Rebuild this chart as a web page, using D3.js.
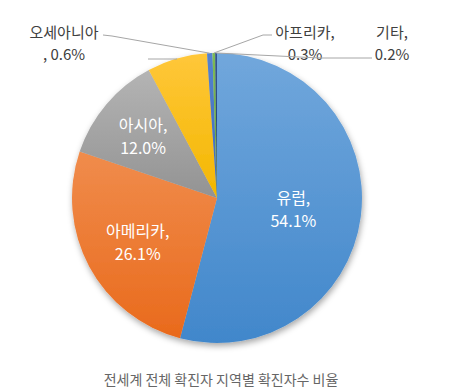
<!DOCTYPE html>
<html>
<head>
<meta charset="utf-8">
<script src="https://cdn.jsdelivr.net/npm/d3@7"></script>
<style>
  body { margin: 0; background: #fff; }
  text { font-family: "Noto Sans CJK KR", "Noto Sans", sans-serif; }
</style>
</head>
<body>
<div id="chart"></div>
<script>
var svgWidth = 452;
var svgHeight = 391;

// data (clockwise from 12 o'clock)
var regions = ["유럽", "아메리카", "아시아", "중동", "오세아니아", "아프리카", "기타"];
var shares = [54.1, 26.1, 12.0, 6.7, 0.6, 0.3, 0.2];
var shownLabels = ["유럽,", "아메리카,", "아시아,", "", "오세아니아", "아프리카,", "기타,"];
var shownValues = ["54.1%", "26.1%", "12.0%", "", ", 0.6%", "0.3%", "0.2%"];
var title = "전세계 전체 확진자 지역별 확진자수 비율";

// top / bottom colour of each slice gradient
var topColors = ["#71a7dc", "#f08c4c", "#b4b4b4", "#ffc73a", "#5583d0", "#7dbb55", "#33558f"];
var bottomColors = ["#4187cb", "#e96a1c", "#939393", "#f3b700", "#3d68b8", "#63a03c", "#213c6c"];

var cx = 217, cy = 198, radius = 145;

var svg = d3.select("#chart")
  .append("svg")
  .attr("width", svgWidth)
  .attr("height", svgHeight);

var defs = svg.append("defs");

var shadow = defs.append("filter")
  .attr("id", "shadow")
  .attr("x", "-20%").attr("y", "-20%")
  .attr("width", "140%").attr("height", "140%");
shadow.append("feDropShadow")
  .attr("dx", 1).attr("dy", 3)
  .attr("stdDeviation", 3)
  .attr("flood-color", "#000")
  .attr("flood-opacity", 0.35);

regions.forEach(function(r, i) {
  var g = defs.append("linearGradient")
    .attr("id", "grad" + i)
    .attr("x1", 0).attr("y1", 0)
    .attr("x2", 0).attr("y2", 1);
  g.append("stop").attr("offset", "0%").attr("stop-color", topColors[i]);
  g.append("stop").attr("offset", "100%").attr("stop-color", bottomColors[i]);
});

var pieData = regions.map(function(r, i) {
  return { region: r, share: shares[i], label: shownLabels[i], value: shownValues[i], idx: i };
});

var pie = d3.pie()
  .sort(null)
  .value(d => d.share);

var arcs = pie(pieData);

var arc = d3.arc()
  .innerRadius(0)
  .outerRadius(radius);

var chartGroup = svg.append("g")
  .attr("transform", `translate(${cx}, ${cy})`);

// slices
var sliceGroup = chartGroup.append("g")
  .attr("filter", "url(#shadow)");

sliceGroup.selectAll("path")
  .data(arcs)
  .enter()
  .append("path")
  .attr("d", arc)
  .attr("fill", d => `url(#grad${d.data.idx})`);

// labels inside the three big slices
var innerRadii = { "유럽": 77, "아메리카": 90, "아시아": 97 };

var inner = arcs.filter(d => innerRadii[d.data.region]);

var innerLabels = chartGroup.selectAll(".inner-label")
  .data(inner)
  .enter()
  .append("text")
  .classed("inner-label", true)
  .attr("transform", function(d) {
    var r = innerRadii[d.data.region];
    var a = (d.startAngle + d.endAngle) / 2;
    return `translate(${Math.sin(a) * r}, ${-Math.cos(a) * r})`;
  })
  .attr("text-anchor", "middle")
  .attr("fill", "#fff")
  .style("font-size", "16px");

innerLabels.append("tspan")
  .attr("x", 0).attr("y", -4)
  .text(d => d.data.label);
innerLabels.append("tspan")
  .attr("x", 0).attr("y", 19)
  .text(d => d.data.value);

// outside labels with leader lines (label anchor in page coordinates)
var outside = {
  "중동":      { line: [[148, 59], [177, 59]] },
  "오세아니아": { x: 64, line: [[103, 35], [112, 36]], anchor: "middle" },
  "아프리카":   { x: 305, line: [[272, 35], [263, 35]], anchor: "middle" },
  "기타":       { x: 392, line: [[372, 58], [320, 58]], anchor: "middle" }
};

var outerGroup = svg.append("g");

arcs.forEach(function(d) {
  var o = outside[d.data.region];
  if (!o) return;
  var a = (d.startAngle + d.endAngle) / 2;
  var edge = [cx + Math.sin(a) * radius, cy - Math.cos(a) * radius];
  var pts = o.line.concat([edge]);
  outerGroup.append("polyline")
    .attr("points", pts.map(p => p.join(",")).join(" "))
    .attr("fill", "none")
    .attr("stroke", "#a6a6a6")
    .attr("stroke-width", 1);

  if (d.data.label) {
    var t = outerGroup.append("text")
      .attr("text-anchor", o.anchor)
      .attr("fill", "#404040")
      .style("font-size", "15px");
    t.append("tspan").attr("x", o.x).attr("y", 38).text(d.data.label);
    t.append("tspan").attr("x", o.x).attr("y", 60).text(d.data.value);
  }
});

// caption under the chart
svg.append("text")
  .attr("x", 221)
  .attr("y", 385)
  .attr("text-anchor", "middle")
  .attr("fill", "#666")
  .style("font-size", "14px")
  .text(title);
</script>
</body>
</html>
